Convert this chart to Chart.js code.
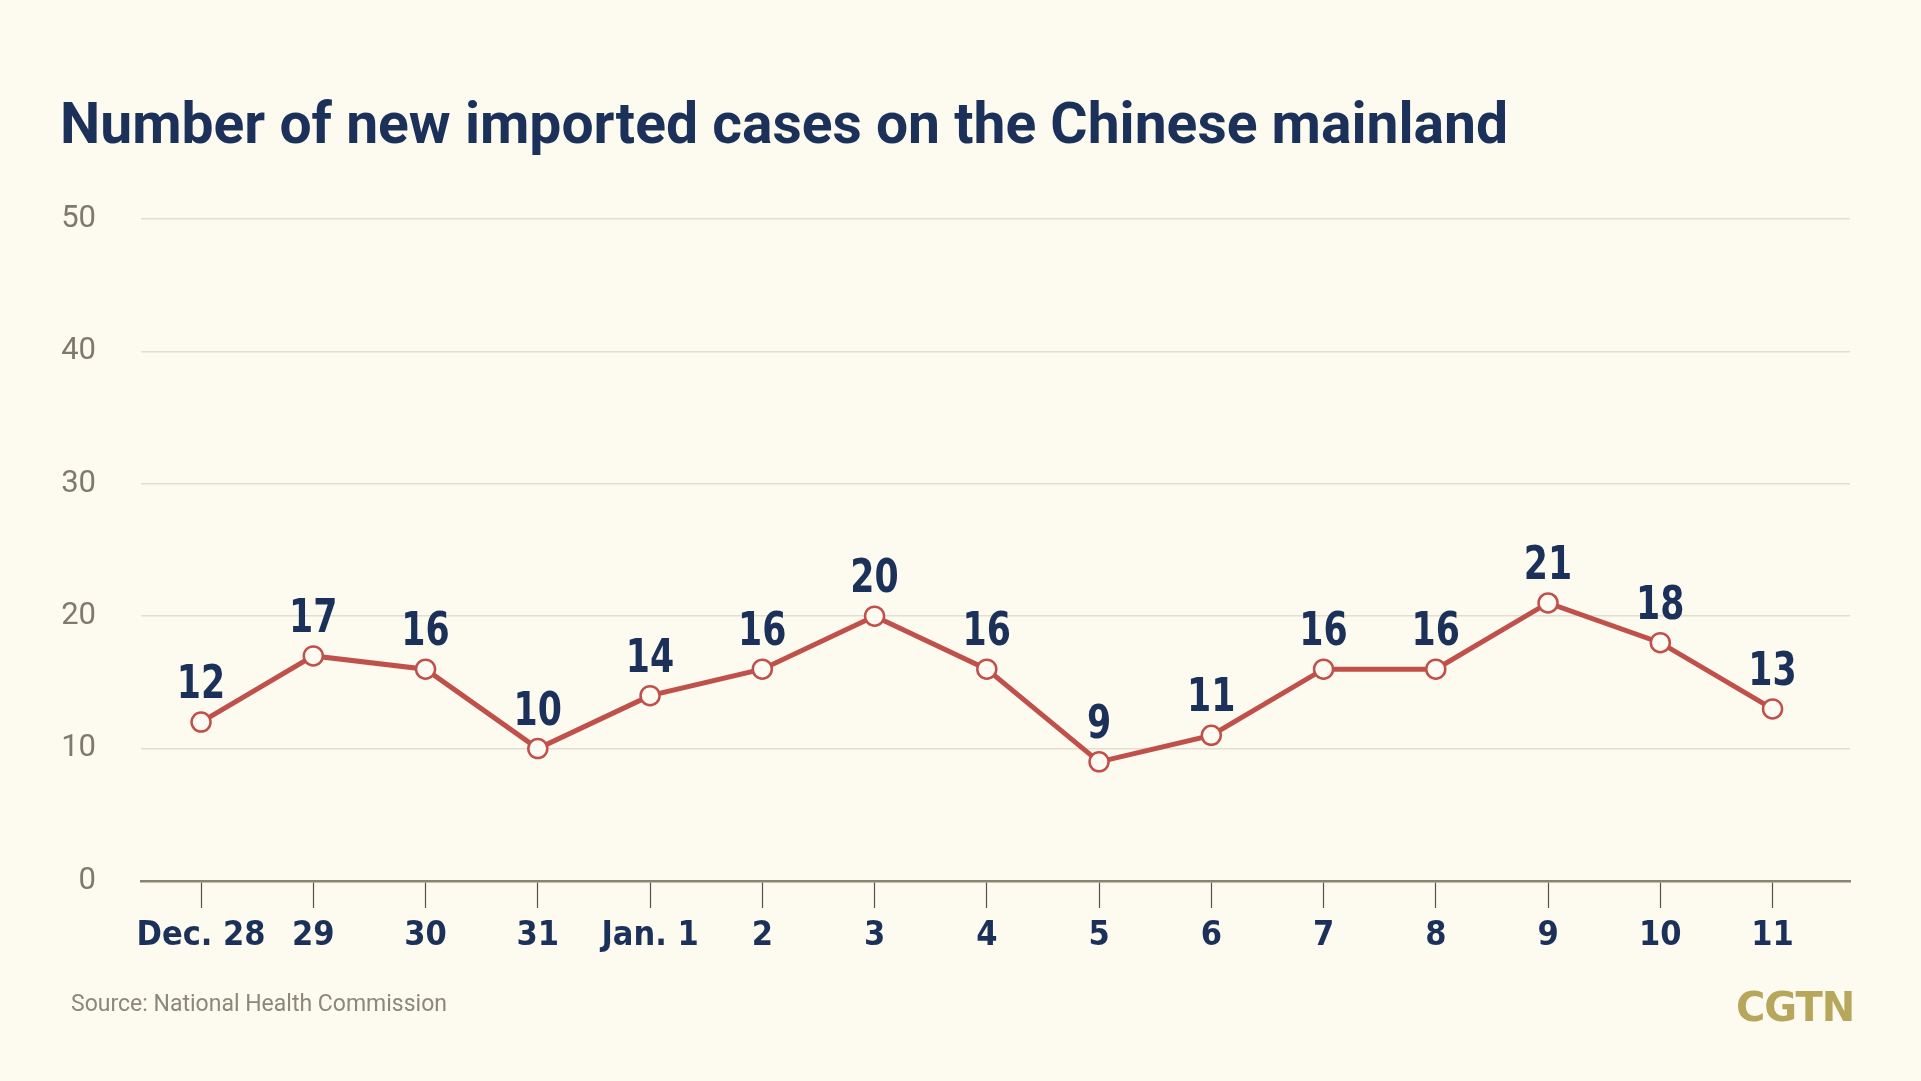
<!DOCTYPE html>
<html lang="en">
<head>
    <meta charset="UTF-8">
    <title>Number of new imported cases on the Chinese mainland</title>
    <script src="https://cdn.jsdelivr.net/npm/chart.js"></script>
    <style>
        body {
            margin: 0;
            padding: 0;
            background-color: #fdfaf0;
            width: 1921px;
            height: 1081px;
            overflow: hidden;
            position: relative;
            font-family: Roboto, 'Noto Sans', sans-serif;
        }

        #title {
            position: absolute;
            left: 60px;
            top: 90px;
            margin: 0;
            font-size: 57px;
            font-weight: 700;
            color: #1c3159;
            white-space: nowrap;
        }

        #source {
            position: absolute;
            left: 71px;
            top: 990px;
            font-size: 23px;
            color: #8b887a;
        }

        #logo {
            position: absolute;
            left: 1736px;
            top: 984px;
            font-family: 'DejaVu Sans', sans-serif;
            font-size: 40px;
            font-weight: 700;
            letter-spacing: -1px;
            color: #b7a75c;
        }

        canvas {
            position: absolute;
            left: 0;
            top: 0;
        }
    </style>
</head>
<body>

    <h1 id="title">Number of new imported cases on the Chinese mainland</h1>
    <canvas id="myChart" width="1921" height="1081"></canvas>
    <div id="source">Source: National Health Commission</div>
    <div id="logo">CGTN</div>

    <script>
        // data
        var dates = ['Dec. 28', '29', '30', '31', 'Jan. 1', '2', '3', '4', '5', '6', '7', '8', '9', '10', '11'];
        var importedCases = [12, 17, 16, 10, 14, 16, 20, 16, 9, 11, 16, 16, 21, 18, 13];
        var yTicks = [0, 10, 20, 30, 40, 50];

        var navy = '#1c3159';
        var red = '#c0504a';
        var narrow = '"Liberation Sans Narrow", "DejaVu Sans Condensed", "Roboto Condensed", Roboto, sans-serif';

        // numbers above each point (squeezed a bit, the original face is condensed)
        var valueLabels = {
            id: 'valueLabels',
            afterDatasetsDraw: function (chart) {
                var ctx = chart.ctx;
                var meta = chart.getDatasetMeta(0);
                ctx.save();
                ctx.font = 'bold 46px ' + narrow;
                ctx.fillStyle = navy;
                ctx.textAlign = 'center';
                ctx.textBaseline = 'alphabetic';
                meta.data.forEach(function (pt, i) {
                    ctx.save();
                    ctx.translate(pt.x, pt.y - 24);
                    ctx.scale(0.84, 1);
                    ctx.fillText(String(importedCases[i]), 0, 0);
                    ctx.restore();
                });
                ctx.restore();
            }
        };

        var ctx = document.getElementById('myChart').getContext('2d');

        var myChart = new Chart(ctx, {
            type: 'line',
            data: {
                datasets: [{
                    label: 'New imported cases',
                    data: importedCases.map(function (v, i) { return { x: i, y: v }; }),
                    borderColor: red,
                    borderWidth: 5,
                    pointRadius: 9.5,
                    pointBorderWidth: 2.5,
                    pointBackgroundColor: '#fffbf2',
                    pointBorderColor: red,
                    tension: 0,
                    clip: false,
                    fill: false
                }]
            },
            options: {
                responsive: false,
                animation: false,
                events: [],
                layout: {
                    padding: { top: 219, right: 71, left: 0, bottom: 0 }
                },
                scales: {
                    x: {
                        type: 'linear',
                        min: -0.535,
                        max: 14.69,
                        afterBuildTicks: function (s) {
                            s.ticks = dates.map(function (_, i) { return { value: i }; });
                        },
                        afterFit: function (s) { s.height = 200; },
                        ticks: {
                            callback: function (v) { return dates[v]; },
                            color: navy,
                            font: { family: narrow, size: 34, weight: 'bold' },
                            padding: 8,
                            autoSkip: false,
                            maxRotation: 0
                        },
                        grid: {
                            drawOnChartArea: false,
                            tickLength: 27,
                            tickColor: '#55524a',
                            tickWidth: 1.2
                        },
                        border: {
                            display: true,
                            color: '#8a8573',
                            width: 2.5
                        }
                    },
                    y: {
                        min: 0,
                        max: 50,
                        afterBuildTicks: function (s) {
                            s.ticks = yTicks.map(function (v) { return { value: v }; });
                        },
                        afterFit: function (s) { s.width = 141; },
                        ticks: {
                            color: '#7f7b6c',
                            font: { family: 'Roboto, sans-serif', size: 31 },
                            padding: 45
                        },
                        grid: {
                            color: '#e3dfd0',
                            lineWidth: 1.5,
                            drawTicks: false
                        },
                        border: { display: false }
                    }
                },
                plugins: {
                    legend: { display: false },
                    tooltip: { enabled: false },
                    title: { display: false }
                }
            },
            plugins: [valueLabels]
        });
    </script>
</body>
</html>
